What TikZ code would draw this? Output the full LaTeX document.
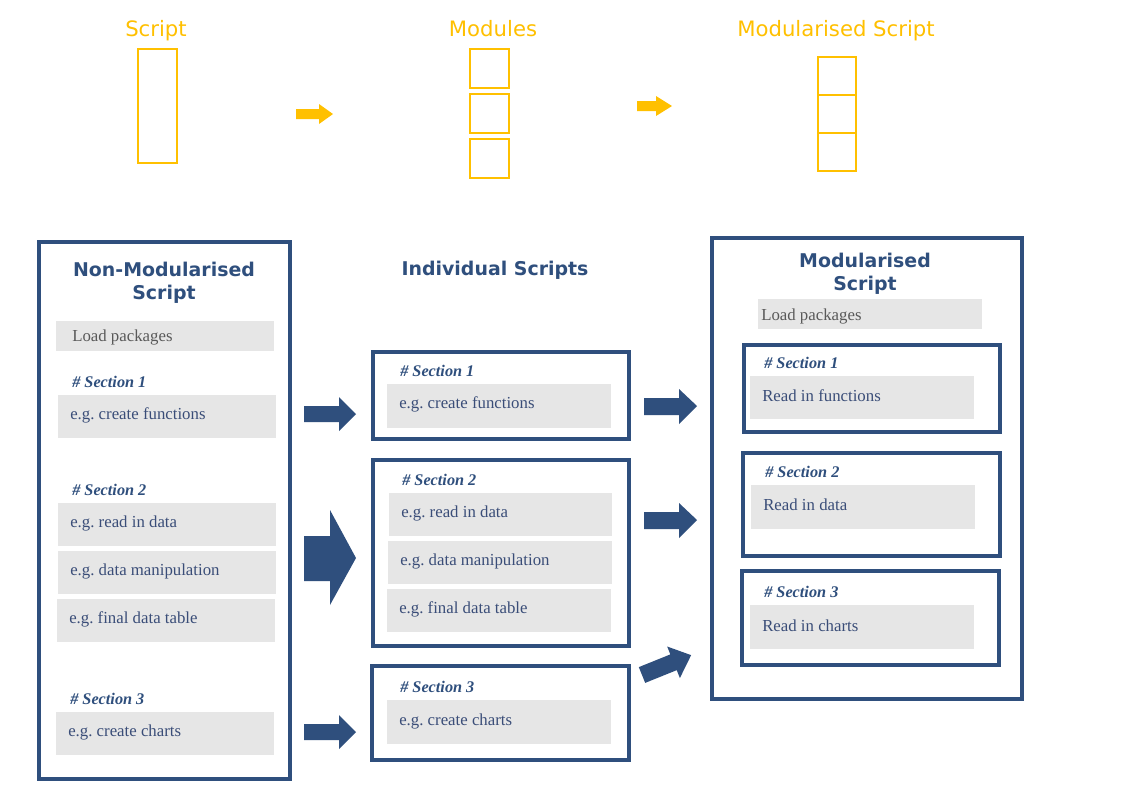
\documentclass[tikz,border=0pt]{standalone}
\usepackage{fontspec}
\setmainfont{Liberation Serif}
\newfontfamily\vfont{DejaVu Sans}
\definecolor{gold}{HTML}{FFC000}
\definecolor{navy}{HTML}{2F4F7D}
\definecolor{navytext}{HTML}{3A4D78}
\definecolor{greyfill}{HTML}{E6E6E6}
\definecolor{greytext}{HTML}{595959}
\frenchspacing
\begin{document}
\begin{tikzpicture}[x=0.75pt,y=-0.75pt,
  goldbox/.style={draw=gold,line width=2.1pt},
  goldtitle/.style={text=gold,font=\vfont\fontsize{15.9}{18}\selectfont,inner sep=0pt,anchor=base},
  navybox/.style={draw=navy,line width=2.3pt},
  greybox/.style={fill=greyfill},
  heading/.style={text=navy,font=\vfont\bfseries\fontsize{14.2}{17}\selectfont,align=center,inner sep=0pt},
  seclabel/.style={text=navy,font=\bfseries\itshape\fontsize{12.2}{14}\selectfont,anchor=west,inner sep=0pt},
  itemtext/.style={text=navytext,font=\fontsize{12.6}{14}\selectfont,anchor=west,inner sep=0pt},
  loadtext/.style={text=greytext,font=\fontsize{12.6}{14}\selectfont,anchor=west,inner sep=0pt},
  blockarrow/.style={fill=navy},
  goldarrow/.style={fill=gold}]
\useasboundingbox (0,0) rectangle (1122,794);
\fill[white] (0,0) rectangle (1122,794);

% ---------- top row ----------
\node[goldtitle] (tScript) at (156,36) {Script};
\draw[goldbox] (138,49) rectangle (177,163);
\fill[goldarrow] (296,109) -- (319,109) -- (319,104) -- (333,114) -- (319,124) -- (319,119) -- (296,119) -- cycle;

\node[goldtitle] (tModules) at (493,36) {Modules};
\draw[goldbox] (470,49) rectangle (509,88);
\draw[goldbox] (470,94) rectangle (509,133);
\draw[goldbox] (470,139) rectangle (509,178);
\fill[goldarrow] (637,101) -- (656,101) -- (656,96) -- (672,106) -- (656,116) -- (656,111) -- (637,111) -- cycle;

\node[goldtitle] (tModScript) at (836,36) {Modularised Script};
\draw[goldbox] (818,57) rectangle (856,171);
\draw[goldbox] (818,95) -- (856,95);
\draw[goldbox] (818,133) -- (856,133);

% ---------- left column: non-modularised ----------
\draw[navybox] (39,242) rectangle (290,779);
\node[heading] (hNon) at (164,283) {Non-Modularised\\Script};
\fill[greybox] (56,321) rectangle (274,351);
\node[loadtext] (lLoad) at (72,337) {Load packages};
\node[seclabel] (lS1) at (72,382) {\# Section 1};
\fill[greybox] (58,395) rectangle (276,438);
\node[itemtext] (lF) at (70,415) {e.g. create functions};
\node[seclabel] (lS2) at (72,490) {\# Section 2};
\fill[greybox] (58,503) rectangle (276,546);
\node[itemtext] (lR) at (70,523) {e.g. read in data};
\fill[greybox] (58,551) rectangle (276,594);
\node[itemtext] (lM) at (70,571) {e.g. data manipulation};
\fill[greybox] (57,599) rectangle (275,642);
\node[itemtext] (lT) at (69,619) {e.g. final data table};
\node[seclabel] (lS3) at (70,699) {\# Section 3};
\fill[greybox] (56,712) rectangle (274,755);
\node[itemtext] (lC) at (68,732) {e.g. create charts};

% arrows left -> middle
\fill[blockarrow] (304,406) -- (339,406) -- (339,397) -- (356,414) -- (339,431) -- (339,422) -- (304,422) -- cycle;
\fill[blockarrow] (304,536) -- (330,536) -- (330,510) -- (356,558) -- (330,605) -- (330,581) -- (304,581) -- cycle;
\fill[blockarrow] (304,724) -- (339,724) -- (339,715) -- (356,732) -- (339,749) -- (339,740) -- (304,740) -- cycle;

% ---------- middle column: individual scripts ----------
\node[heading] (hInd) at (495,270) {Individual Scripts};
\draw[navybox] (373,352) rectangle (629,439);
\node[seclabel] (mS1) at (400,371) {\# Section 1};
\fill[greybox] (387,384) rectangle (611,428);
\node[itemtext] (mF) at (399,404) {e.g. create functions};

\draw[navybox] (373,460) rectangle (629,646);
\node[seclabel] (mS2) at (402,480) {\# Section 2};
\fill[greybox] (389,493) rectangle (612,536);
\node[itemtext] (mR) at (401,513) {e.g. read in data};
\fill[greybox] (388,541) rectangle (612,584);
\node[itemtext] (mM) at (400,561) {e.g. data manipulation};
\fill[greybox] (387,589) rectangle (611,632);
\node[itemtext] (mT) at (399,609) {e.g. final data table};

\draw[navybox] (372,666) rectangle (629,760);
\node[seclabel] (mS3) at (400,687) {\# Section 3};
\fill[greybox] (387,700) rectangle (611,744);
\node[itemtext] (mC) at (399,721) {e.g. create charts};

% arrows middle -> right
\fill[blockarrow] (644,398) -- (679,398) -- (679,389) -- (697,406) -- (679,424) -- (679,415) -- (644,415) -- cycle;
\fill[blockarrow] (644,512) -- (679,512) -- (679,503) -- (697,520) -- (679,538) -- (679,529) -- (644,529) -- cycle;
\begin{scope}[shift={(642,675)},rotate=22]
\fill[blockarrow] (0,-8.5) -- (34,-8.5) -- (34,-17) -- (53,0) -- (34,17) -- (34,8.5) -- (0,8.5) -- cycle;
\end{scope}

% ---------- right column: modularised script ----------
\draw[navybox] (712,238) rectangle (1022,699);
\node[heading] (hMod) at (865,274) {Modularised\\Script};
\fill[greybox] (758,299) rectangle (982,329);
\node[loadtext] (rLoad) at (761,316) {Load packages};

\draw[navybox] (744,345) rectangle (1000,432);
\node[seclabel] (rS1) at (764,363) {\# Section 1};
\fill[greybox] (750,376) rectangle (974,419);
\node[itemtext] (rF) at (762,396) {Read in functions};

\draw[navybox] (743,453) rectangle (1000,556);
\node[seclabel] (rS2) at (765,472) {\# Section 2};
\fill[greybox] (751,485) rectangle (975,529);
\node[itemtext] (rR) at (763,505) {Read in data};

\draw[navybox] (742,571) rectangle (999,665);
\node[seclabel] (rS3) at (764,592) {\# Section 3};
\fill[greybox] (750,605) rectangle (974,649);
\node[itemtext] (rC) at (762,626) {Read in charts};
\end{tikzpicture}
\end{document}
